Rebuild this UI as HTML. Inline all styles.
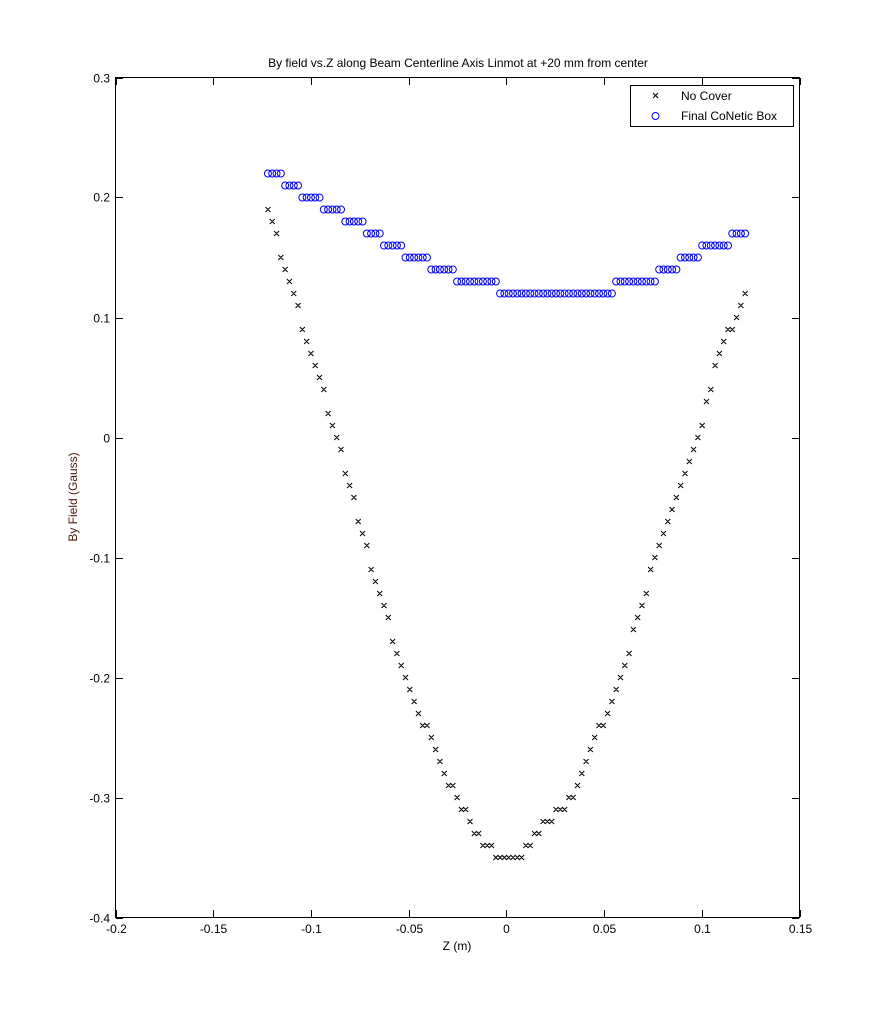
<!DOCTYPE html>
<html><head><meta charset="utf-8"><style>
html,body{margin:0;padding:0;background:#fff}
svg{display:block;font-family:"Liberation Sans",sans-serif}
</style></head><body>
<svg id="s" width="882" height="1030" xmlns="http://www.w3.org/2000/svg">
<rect x="0" y="0" width="882" height="1030" fill="#fff"/>
<rect x="115.5" y="77.5" width="684" height="840" fill="none" stroke="#000" stroke-width="1"/>
<g id="ticks" stroke="#000" stroke-width="1"></g>
<g font-size="12" fill="#000" id="lbl"></g>
<text x="458" y="67" font-size="12" text-anchor="middle">By field vs.Z along Beam Centerline Axis Linmot at +20 mm from center</text>
<text x="457" y="950" font-size="12" text-anchor="middle">Z (m)</text>
<text transform="translate(77,497) rotate(-90)" font-size="12" text-anchor="middle" fill="#4a1a0a">By Field (Gauss)</text>
<g id="data"></g>
<rect x="630.5" y="85.5" width="163" height="41" fill="#fff" stroke="#000"/>
<path d="M653 93l5 5M658 93l-5 5" stroke="#000" stroke-width="1"/>
<circle cx="655.5" cy="116" r="3.5" fill="none" stroke="#0000ff"/>
<text x="681" y="100" font-size="12">No Cover</text>
<text x="681" y="120" font-size="12">Final CoNetic Box</text>
</svg>
<script>
var NS="http://www.w3.org/2000/svg";
function X(v){return 115.5+(v+0.2)*684/0.35}
function Y(v){return 77.5+(0.3-v)*1200}
var t=document.getElementById('ticks'),l=document.getElementById('lbl'),d=document.getElementById('data');
function el(tag,a,p){var e=document.createElementNS(NS,tag);for(var k in a)e.setAttribute(k,a[k]);p.appendChild(e);return e}
var xs=[-0.2,-0.15,-0.1,-0.05,0,0.05,0.1,0.15],xl=["-0.2","-0.15","-0.1","-0.05","0","0.05","0.1","0.15"];
xs.forEach(function(v,i){var x=Math.round(X(v))+0.5;el('line',{x1:x,x2:x,y1:917,y2:910},t);el('line',{x1:x,x2:x,y1:78,y2:85},t);
var tx=el('text',{x:x,y:933,'text-anchor':'middle'},l);tx.textContent=xl[i]});
var ys=[0.3,0.2,0.1,0,-0.1,-0.2,-0.3,-0.4],yl=["0.3","0.2","0.1","0","-0.1","-0.2","-0.3","-0.4"];
ys.forEach(function(v,i){var y=Math.round(Y(v))+0.5;el('line',{x1:116,x2:123,y1:y,y2:y},t);el('line',{x1:799,x2:792,y1:y,y2:y},t);
var tx=el('text',{x:110,y:y+4,'text-anchor':'end'},l);tx.textContent=yl[i]});
function interp(P,x){for(var i=0;i<P.length-1;i++){if(x<=P[i+1][0]){var a=P[i],b=P[i+1];return a[1]+(b[1]-a[1])*(x-a[0])/(b[0]-a[0])}}return P[P.length-1][1]}
var V=[[-0.122,0.19],[-0.098,0.06],[-0.0865,0],[-0.0706,-0.1],[-0.052,-0.2],[-0.026,-0.3],[-0.012,-0.34],[-0.003,-0.35],[0.008,-0.35],[0.01,-0.34],[0.033,-0.3],[0.059,-0.2],[0.076,-0.1],[0.098,0],[0.107,0.06],[0.122,0.12]];
var C=[[-0.122,0.222],[-0.1,0.2],[-0.07,0.172],[-0.05,0.152],[-0.03,0.138],[-0.015,0.128],[0,0.124],[0.05,0.123],[0.075,0.133],[0.1,0.155],[0.122,0.17]];
var p="";
for(var x=-0.122;x<=0.1225;x+=0.0022){var y=Math.round(interp(V,x)*100)/100;var px=X(x),py=Y(y);
p+="M"+(px-2.5)+" "+(py-2.5)+"l5 5M"+(px+2.5)+" "+(py-2.5)+"l-5 5";
var yc=Math.round(interp(C,x)*100)/100;el('circle',{cx:X(x),cy:Y(yc),r:3.5,fill:'none',stroke:'#0000ff'},d);}
el('path',{d:p,stroke:'#000','stroke-width':1,fill:'none'},d);
</script>
</body></html>
